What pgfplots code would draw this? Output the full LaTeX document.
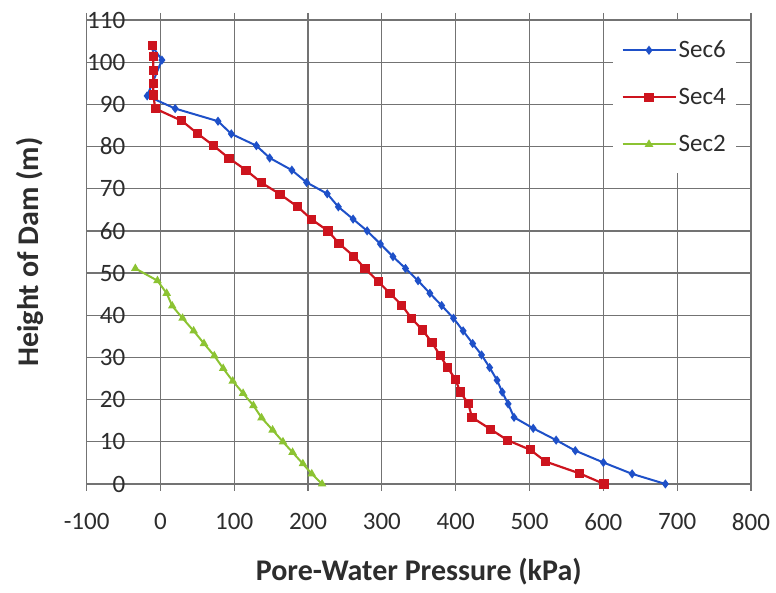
\documentclass[border=0pt]{standalone}
\usepackage{pgfplots}
\pgfplotsset{compat=1.18}
\usepackage{fontspec}
\setmainfont{Carlito}

\definecolor{secsix}{RGB}{30,80,200}
\definecolor{secfour}{RGB}{205,20,30}
\definecolor{sectwo}{RGB}{140,195,50}
\definecolor{gridc}{RGB}{115,115,115}
\definecolor{txtc}{RGB}{45,45,45}

\begin{document}
\begin{tikzpicture}
\begin{axis}[
  scale only axis,
  width=332.2pt, height=232pt,
  xmin=-100, xmax=800, ymin=0, ymax=110,
  xtick={-100,0,...,800},
  ytick={0,10,...,110},
  grid=major,
  major grid style={gridc, line width=0.6pt},
  axis line style={gridc, line width=0.6pt},
  tick align=outside,
  major tick length=3.5pt,
  xtick style={gridc, line width=0.6pt},
  ytick style={draw=none},
  /pgf/number format/assume math mode=true,
  ticklabel style={font=\fontsize{12.5}{14}\selectfont, text=txtc},
  xticklabel style={inner sep=0pt, anchor=north, yshift=-11pt},
  yticklabel style={inner sep=0pt, anchor=east, xshift=23pt},
  xlabel={\textbf{Pore-Water Pressure (kPa)}},
  ylabel={\textbf{Height of Dam (m)}},
  xlabel style={font=\fontsize{15}{18}\selectfont, text=txtc,
    at={(rel axis cs:0.5,0)}, anchor=center, yshift=-44pt},
  every axis y label/.style={at={(rel axis cs:0,0.5)}, xshift=-28.3pt,
    rotate=90, anchor=center, font=\fontsize{15}{18}\selectfont, text=txtc},
  legend style={at={(rel axis cs:0.7923,0.998)}, anchor=north west,
    fill=white, draw=none, inner xsep=4pt, inner ysep=8pt, row sep=10.5pt,
    font=\fontsize{12.5}{14}\selectfont, text=txtc,
    nodes={text height=9pt, text depth=2pt, inner sep=1pt}},
  legend cell align=left,
  legend image code/.code={\draw[mark repeat=2,mark phase=2,#1] plot coordinates {(0pt,0pt) (13.25pt,0pt) (26.5pt,0pt)};},
]
\addplot[secsix, line width=1pt, mark=diamond*, mark size=1.5pt] table {
x y
-10 103.5
2 100.5
-18 92
20 89
78 86
96 83
130 80.2
148 77.3
178 74.4
198 71.5
226 68.8
241 65.7
261 62.8
280 60
298 56.9
315 53.9
332 51.1
349 48.2
365 45.2
381 42.3
397 39.3
410 36.3
423 33.3
435 30.6
446 27.6
456 24.6
463 21.8
471 19
479 15.8
505 13.2
536 10.4
562 7.9
600 5.1
639 2.4
684 0
};
\addlegendentry{Sec6}
\addplot[secfour, line width=1.1pt, mark=square*, mark size=1.75pt] table {
x y
-10.5 104
-9.6 101.3
-9.6 98.1
-9.6 95
-9.6 92.2
-7 89
29 86.1
50 83.1
72 80.2
93 77.2
116 74.4
137 71.4
162 68.7
186 65.7
205 62.7
227 60
242 57
262 54
277 51.1
295 48
311 45.2
327 42.4
340 39.3
355 36.5
368 33.5
379 30.4
389 27.6
400 24.7
406 21.8
417 19.1
422 15.8
447 13
470 10.4
501 8.1
522 5.3
568 2.5
601 0
};
\addlegendentry{Sec4}
\addplot[sectwo, line width=1pt, mark=triangle*, mark size=1.5pt] table {
x y
-34 51.1
-4 48.2
8.5 45.2
16 42.2
30 39.3
45 36.3
59 33.3
73 30.4
85 27.4
98 24.4
112 21.5
126 18.6
137 15.7
152 12.8
166 10
179 7.5
193 4.8
205 2.4
219 0
};
\addlegendentry{Sec2}
\end{axis}
\path (current axis.south west) ++(-43.3pt,-54.5pt) coordinate (bbA);
\path (current axis.north east) ++(12.5pt,10pt) coordinate (bbB);
\path (bbA) rectangle (bbB);
\end{tikzpicture}
\end{document}
